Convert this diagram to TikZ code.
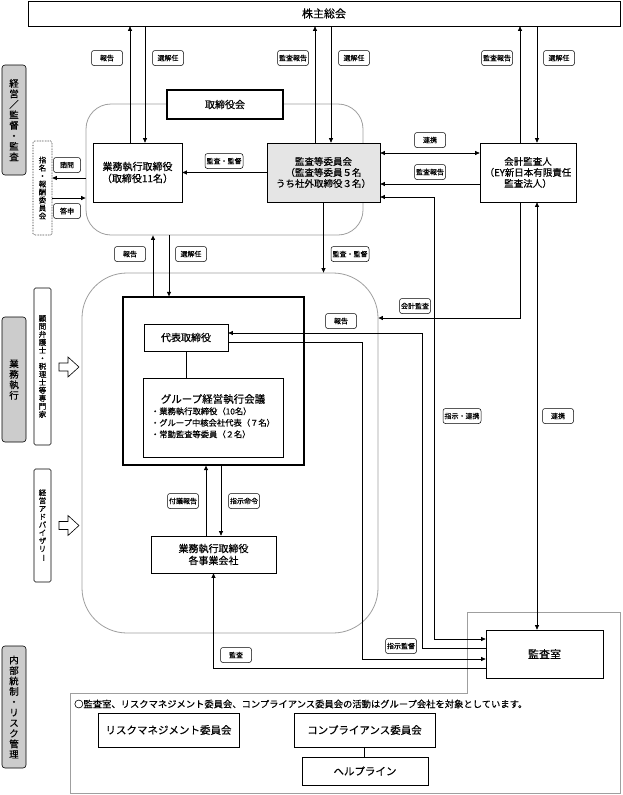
\documentclass[tikz,border=0pt]{standalone}
\usepackage{fontspec}
\setmainfont{Noto Sans CJK JP}[FakeBold=0.35]
\usepackage{graphicx}
\usetikzlibrary{arrows.meta}
\tikzstyle{box} = [draw, line width=0.7pt, fill=white, align=center, inner sep=1pt, font=\fontsize{10}{12}\selectfont]
\tikzstyle{lbl} = [draw, line width=0.5pt, rounded corners=2.5pt, fill=white, inner xsep=1.5pt, inner ysep=0pt, minimum width=31pt, minimum height=15pt, font=\fontsize{7}{7.5}\selectfont]
\tikzstyle{area} = [draw=gray!75, line width=0.8pt, rounded corners=25pt]
\tikzstyle{side} = [draw, line width=0.6pt, fill=gray!40, rounded corners=3pt, align=center, minimum width=24pt, inner sep=0pt, font=\fontsize{9.5}{10.5}\selectfont]
\tikzstyle{vbox} = [draw, line width=0.6pt, rounded corners=1.5pt, align=center, minimum width=17pt, inner sep=0pt, font=\fontsize{7.5}{8}\selectfont]
\tikzstyle{hollow} = [draw, line width=0.6pt, fill=white]
\tikzstyle{arrow} = [line width=0.7pt, -{Triangle[length=4.5pt,width=4pt]}]
\tikzstyle{darrow} = [line width=0.7pt, {Triangle[length=4.5pt,width=4pt]}-{Triangle[length=4.5pt,width=4pt]}]

\begin{document}
\begin{tikzpicture}[x=1pt,y=-1pt]
  \path[use as bounding box, fill=white] (0,0) rectangle (622,795);

  % areas
  \node[area, minimum width=277pt, minimum height=131pt] (board) at (224.5,169.5) {};
  \node[area, rounded corners=45pt, minimum width=296pt, minimum height=360pt] (execarea) at (230,453) {};
  \draw[gray!75, line width=0.8pt] (467,612) -- (620.5,612) -- (620.5,793.5) -- (70,793.5) -- (70,693) -- (467,693) -- cycle;

  % side captions
  \node[side, minimum height=110pt] (sidetop) at (14,120) {経\\営\\／\\監\\督\\・\\監\\査};
  \node[side, minimum height=125pt] (sidemid) at (14,379.5) {業\\務\\執\\行};
  \node[side, minimum height=122pt] (sidebot) at (14,707) {内\\部\\統\\制\\・\\リ\\ス\\ク\\管\\理};

  % boxes
  \node[box, minimum width=592pt, minimum height=25pt, font=\fontsize{11}{13}\selectfont] (gm) at (324,13.5) {株主総会};
  \node[box, line width=1.3pt, minimum width=116pt, minimum height=29pt] (boardname) at (225,104.5) {取締役会};
  \node[box, minimum width=89pt, minimum height=59pt] (gyomu) at (137.5,172.5) {業務執行取締役\\（取締役11名）};
  \node[box, fill=gray!20, minimum width=113pt, minimum height=59pt, font=\fontsize{9.5}{11}\selectfont] (audit) at (323.5,172.5) {監査等委員会\\（監査等委員５名\\うち社外取締役３名）};
  \node[box, minimum width=96pt, minimum height=59pt, font=\fontsize{9.5}{11}\selectfont] (kaikei) at (528,172.5) {会計監査人\\（EY新日本有限責任\\監査法人）};
  \node[vbox, densely dotted, minimum width=19pt, minimum height=94pt] (nomi) at (42.5,188) {指\\名\\・\\報\\酬\\委\\員\\会};

  \node[draw, line width=1.3pt, minimum width=181pt, minimum height=168pt] (exec) at (213.5,381) {};
  \node[box, minimum width=84pt, minimum height=27pt] (daihyo) at (186,337.5) {代表取締役};
  \node[box, minimum width=140pt, minimum height=79pt, font=\fontsize{8.3}{11.5}\selectfont] (group) at (213,417.5)
    {\begin{tabular}{@{}l@{}}\multicolumn{1}{@{}c@{}}{\fontsize{10.5}{12}\selectfont グループ経営執行会議}\\
     ・業務執行取締役（10名）\\ ・グループ中核会社代表（７名）\\ ・常勤監査等委員（２名）\end{tabular}};
  \node[box, minimum width=125pt, minimum height=37pt] (jigyo) at (213.5,554.5) {業務執行取締役\\各事業会社};

  \node[vbox, minimum height=157pt] (advisor) at (42.5,366.5) {顧\\問\\弁\\護\\士\\・\\税\\理\\士\\等\\専\\門\\家};
  \node[vbox, minimum height=113pt] (mgmtadv) at (42.5,525.5) {経\\営\\ア\\ド\\バ\\イ\\ザ\\リ\\\rotatebox[origin=c]{-90}{ー}};
  \draw[hollow] (59,363) -- (68,363) -- (68,357) -- (79,367) -- (68,377) -- (68,371) -- (59,371) -- cycle;
  \draw[hollow] (59,521.5) -- (68,521.5) -- (68,515.5) -- (79,525.5) -- (68,535.5) -- (68,529.5) -- (59,529.5) -- cycle;

  \node[box, minimum width=117pt, minimum height=48pt, font=\fontsize{11}{13}\selectfont] (office) at (544.5,654) {監査室};
  \node[anchor=west, inner sep=0pt, font=\fontsize{9.3}{11}\selectfont] (note) at (74,704) {○監査室、リスクマネジメント委員会、コンプライアンス委員会の活動はグループ会社を対象としています。};
  \node[box, minimum width=141pt, minimum height=34pt, font=\fontsize{10.5}{12}\selectfont] (risk) at (168.5,730) {リスクマネジメント委員会};
  \node[box, minimum width=141pt, minimum height=34pt, font=\fontsize{10.5}{12}\selectfont] (comp) at (364.5,730) {コンプライアンス委員会};
  \node[box, minimum width=126pt, minimum height=28pt, font=\fontsize{10.5}{12}\selectfont] (help) at (365,771) {ヘルプライン};

  % shareholders' meeting
  \draw[arrow] ([xshift=-7.5pt]gyomu.north) -- ([xshift=-7.5pt]gyomu.north |- gm.south);
  \draw[arrow] ([xshift=7.5pt]gyomu.north |- gm.south) -- ([xshift=7.5pt]gyomu.north);
  \draw[arrow] ([xshift=-8.5pt]audit.north) -- ([xshift=-8.5pt]audit.north |- gm.south);
  \draw[arrow] ([xshift=7.5pt]audit.north |- gm.south) -- ([xshift=7.5pt]audit.north);
  \draw[arrow] ([xshift=-8pt]kaikei.north) -- ([xshift=-8pt]kaikei.north |- gm.south);
  \draw[arrow] ([xshift=9pt]kaikei.north |- gm.south) -- ([xshift=9pt]kaikei.north);

  % board
  \draw[arrow] (audit.west) -- (gyomu.east);
  \draw[darrow] ([yshift=19.5pt]audit.east) -- ([yshift=19.5pt]audit.east -| kaikei.west);
  \draw[arrow] ([yshift=-11.5pt]kaikei.west) -- ([yshift=-11.5pt]kaikei.west -| audit.east);
  \draw[arrow] ([yshift=-8.5pt]board.west) -- ([yshift=-8.5pt]board.west -| nomi.east);
  \draw[arrow] ([yshift=-28.5pt]board.west -| nomi.east) -- ([yshift=-28.5pt]board.west);

  % execution
  \draw[arrow] ([xshift=-60.5pt]exec.north) -- ([xshift=-60.5pt]exec.north |- board.south);
  \draw[arrow] ([xshift=-44.5pt]exec.north |- board.south) -- ([xshift=-44.5pt]exec.north);
  \draw[arrow] (audit.south) -- (audit.south |- execarea.north);
  \draw[arrow] ([xshift=-8pt]kaikei.south) |- ([yshift=135pt]execarea.east);
  \draw[line width=0.7pt] (daihyo.south) -- (daihyo.south |- group.north);
  \draw[arrow] ([xshift=-7.5pt]jigyo.north) -- ([xshift=-7.5pt]jigyo.north |- exec.south);
  \draw[arrow] ([xshift=7.5pt]exec.south) -- ([xshift=7.5pt]exec.south |- jigyo.north);

  % audit office
  \draw[darrow] ([xshift=9pt]kaikei.south) -- ([xshift=9pt]kaikei.south |- office.north);
  \draw[darrow] ([yshift=-24.5pt]audit.east) -| ([xshift=-51pt,yshift=15pt]office.west) -- ([yshift=15pt]office.west);
  \draw[arrow] ([yshift=6pt]office.west) -- ++(-63,0) |- ([yshift=4.5pt]daihyo.east);
  \draw[arrow] ([yshift=-4.5pt]daihyo.east) -- ++(134,0) |- ([yshift=-5pt]office.west);
  \draw[arrow] ([yshift=-14pt]office.west) -| (jigyo.south);
  \draw[line width=0.7pt] (comp.south) -- (comp.south |- help.north);

  % labels
  \node[lbl] (l1) at (107,58) {報告};
  \node[lbl] (l2) at (168,58) {選解任};
  \node[lbl] (l3) at (293,58) {監査報告};
  \node[lbl] (l4) at (354,58) {選解任};
  \node[lbl] (l5) at (497,58) {監査報告};
  \node[lbl] (l6) at (559,58) {選解任};
  \node[lbl] (l7) at (224,161) {監査・監督};
  \node[lbl] (l8) at (430,140) {連携};
  \node[lbl] (l9) at (430,172) {監査報告};
  \node[lbl, minimum width=27pt] (l10) at (67,165) {諮問};
  \node[lbl, minimum width=27pt] (l11) at (67,211) {答申};
  \node[lbl] (l12) at (130,254) {報告};
  \node[lbl] (l13) at (191,254) {選解任};
  \node[lbl] (l14) at (350,254) {監査・監督};
  \node[lbl] (l15) at (415,306) {会計監査};
  \node[lbl] (l16) at (341,321) {報告};
  \node[lbl] (l17) at (462,416) {指示・連携};
  \node[lbl] (l18) at (558,416) {連携};
  \node[lbl] (l19) at (183,501) {付議報告};
  \node[lbl] (l20) at (244,501) {指示命令};
  \node[lbl] (l21) at (401,646) {指示監督};
  \node[lbl] (l22) at (236,655) {監査};
\end{tikzpicture}
\end{document}
